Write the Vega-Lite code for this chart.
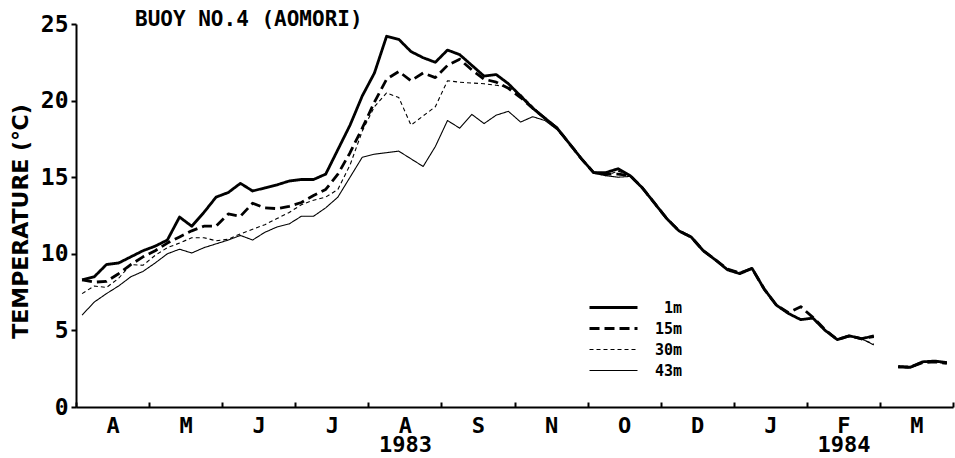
{
  "$schema": "https://vega.github.io/schema/vega-lite/v6.json",
  "width": 877,
  "height": 383,
  "autosize": "none",
  "padding": {"left": 76, "top": 24, "right": 2, "bottom": 51},
  "background": "white",
  "config": {
    "view": {"stroke": null},
    "axis": {"domainColor": "black", "domainWidth": 2, "tickColor": "black", "tickWidth": 2, "labelColor": "black", "titleColor": "black", "grid": false}
  },
  "title": {
    "text": "BUOY NO.4 (AOMORI)",
    "anchor": "start",
    "frame": "group",
    "dx": 59,
    "offset": 0,
    "baseline": "alphabetic",
    "dy": 34,
    "font": "DejaVu Sans Mono",
    "fontSize": 21,
    "fontWeight": "bold",
    "color": "black"
  },
  "data": {
    "values": [
      {"p": 1, "seg": 1, "1m": 8.3, "15m": 8.3, "30m": 7.4, "43m": 6.0},
      {"p": 2, "seg": 1, "1m": 8.5, "15m": 8.15, "30m": 7.9, "43m": 6.85},
      {"p": 3, "seg": 1, "1m": 9.3, "15m": 8.2, "30m": 7.8, "43m": 7.4},
      {"p": 4, "seg": 1, "1m": 9.4, "15m": 8.7, "30m": 8.4, "43m": 7.9},
      {"p": 5, "seg": 1, "1m": 9.8, "15m": 9.3, "30m": 9.3, "43m": 8.5},
      {"p": 6, "seg": 1, "1m": 10.2, "15m": 9.8, "30m": 9.25, "43m": 8.85},
      {"p": 7, "seg": 1, "1m": 10.5, "15m": 10.2, "30m": 9.9, "43m": 9.4},
      {"p": 8, "seg": 1, "1m": 10.9, "15m": 10.7, "30m": 10.4, "43m": 10.0},
      {"p": 9, "seg": 1, "1m": 12.4, "15m": 11.1, "30m": 10.7, "43m": 10.3},
      {"p": 10, "seg": 1, "1m": 11.8, "15m": 11.5, "30m": 11.05, "43m": 10.05},
      {"p": 11, "seg": 1, "1m": 12.7, "15m": 11.8, "30m": 11.05, "43m": 10.4},
      {"p": 12, "seg": 1, "1m": 13.7, "15m": 11.8, "30m": 10.85, "43m": 10.65},
      {"p": 13, "seg": 1, "1m": 14.0, "15m": 12.6, "30m": 10.95, "43m": 10.9},
      {"p": 14, "seg": 1, "1m": 14.6, "15m": 12.45, "30m": 11.3, "43m": 11.2},
      {"p": 15, "seg": 1, "1m": 14.1, "15m": 13.3, "30m": 11.6, "43m": 10.9},
      {"p": 16, "seg": 1, "1m": 14.3, "15m": 13.0, "30m": 11.9, "43m": 11.4},
      {"p": 17, "seg": 1, "1m": 14.5, "15m": 12.95, "30m": 12.3, "43m": 11.75},
      {"p": 18, "seg": 1, "1m": 14.75, "15m": 13.1, "30m": 12.7, "43m": 11.95},
      {"p": 19, "seg": 1, "1m": 14.85, "15m": 13.35, "30m": 13.2, "43m": 12.45},
      {"p": 20, "seg": 1, "1m": 14.85, "15m": 13.8, "30m": 13.5, "43m": 12.45},
      {"p": 21, "seg": 1, "1m": 15.2, "15m": 14.2, "30m": 13.7, "43m": 13.0},
      {"p": 22, "seg": 1, "1m": 16.8, "15m": 15.2, "30m": 14.2, "43m": 13.7},
      {"p": 23, "seg": 1, "1m": 18.4, "15m": 16.6, "30m": 15.8, "43m": 15.0},
      {"p": 24, "seg": 1, "1m": 20.3, "15m": 18.2, "30m": 18.0, "43m": 16.3},
      {"p": 25, "seg": 1, "1m": 21.8, "15m": 19.9, "30m": 19.6, "43m": 16.5},
      {"p": 26, "seg": 1, "1m": 24.2, "15m": 21.4, "30m": 20.5, "43m": 16.6},
      {"p": 27, "seg": 1, "1m": 24.0, "15m": 21.9, "30m": 20.2, "43m": 16.7},
      {"p": 28, "seg": 1, "1m": 23.2, "15m": 21.3, "30m": 18.4, "43m": 16.2},
      {"p": 29, "seg": 1, "1m": 22.8, "15m": 21.8, "30m": 19.0, "43m": 15.7},
      {"p": 30, "seg": 1, "1m": 22.5, "15m": 21.5, "30m": 19.6, "43m": 17.0},
      {"p": 31, "seg": 1, "1m": 23.3, "15m": 22.3, "30m": 21.3, "43m": 18.7},
      {"p": 32, "seg": 1, "1m": 23.0, "15m": 22.7, "30m": 21.2, "43m": 18.2},
      {"p": 33, "seg": 1, "1m": 22.3, "15m": 22.0, "30m": 21.15, "43m": 19.1},
      {"p": 34, "seg": 1, "1m": 21.6, "15m": 21.4, "30m": 21.1, "43m": 18.5},
      {"p": 35, "seg": 1, "1m": 21.7, "15m": 21.2, "30m": 21.0, "43m": 19.05},
      {"p": 36, "seg": 1, "1m": 21.1, "15m": 20.8, "30m": 20.9, "43m": 19.3},
      {"p": 37, "seg": 1, "1m": 20.3, "15m": 20.2, "30m": 20.4, "43m": 18.6},
      {"p": 38, "seg": 1, "1m": 19.5, "15m": 19.5, "30m": 19.6, "43m": 18.95},
      {"p": 39, "seg": 1, "1m": 18.85, "15m": 18.85, "30m": 18.85, "43m": 18.7},
      {"p": 40, "seg": 1, "1m": 18.2, "15m": 18.2, "30m": 18.2, "43m": 18.1},
      {"p": 41, "seg": 1, "1m": 17.2, "15m": 17.2, "30m": 17.2, "43m": 17.2},
      {"p": 42, "seg": 1, "1m": 16.2, "15m": 16.2, "30m": 16.2, "43m": 16.2},
      {"p": 43, "seg": 1, "1m": 15.3, "15m": 15.3, "30m": 15.3, "43m": 15.25},
      {"p": 44, "seg": 1, "1m": 15.3, "15m": 15.2, "30m": 15.1, "43m": 15.1},
      {"p": 45, "seg": 1, "1m": 15.55, "15m": 15.2, "30m": 15.4, "43m": 15.0},
      {"p": 46, "seg": 1, "1m": 15.1, "15m": 15.1, "30m": 15.1, "43m": 15.05},
      {"p": 47, "seg": 1, "1m": 14.3, "15m": 14.3, "30m": 14.3, "43m": 14.3},
      {"p": 48, "seg": 1, "1m": 13.3, "15m": 13.3, "30m": 13.3, "43m": 13.3},
      {"p": 49, "seg": 1, "1m": 12.3, "15m": 12.3, "30m": 12.3, "43m": 12.3},
      {"p": 50, "seg": 1, "1m": 11.5, "15m": 11.5, "30m": 11.5, "43m": 11.5},
      {"p": 51, "seg": 1, "1m": 11.1, "15m": 11.1, "30m": 11.1, "43m": 11.1},
      {"p": 52, "seg": 1, "1m": 10.2, "15m": 10.2, "30m": 10.2, "43m": 10.2},
      {"p": 53, "seg": 1, "1m": 9.6, "15m": 9.6, "30m": 9.6, "43m": 9.6},
      {"p": 54, "seg": 1, "1m": 8.95, "15m": 9.0, "30m": 9.0, "43m": 8.95},
      {"p": 55, "seg": 1, "1m": 8.7, "15m": 8.75, "30m": 8.8, "43m": 8.7},
      {"p": 56, "seg": 1, "1m": 9.05, "15m": 9.05, "30m": 9.05, "43m": 9.05},
      {"p": 57, "seg": 1, "1m": 7.7, "15m": 7.7, "30m": 7.7, "43m": 7.7},
      {"p": 58, "seg": 1, "1m": 6.65, "15m": 6.65, "30m": 6.65, "43m": 6.65},
      {"p": 59, "seg": 1, "1m": 6.1, "15m": 6.15, "30m": 6.1, "43m": 6.1},
      {"p": 60, "seg": 1, "1m": 5.7, "15m": 6.55, "30m": 5.75, "43m": 5.7},
      {"p": 61, "seg": 1, "1m": 5.8, "15m": 5.85, "30m": 5.8, "43m": 5.8},
      {"p": 62, "seg": 1, "1m": 5.0, "15m": 5.05, "30m": 5.0, "43m": 5.0},
      {"p": 63, "seg": 1, "1m": 4.4, "15m": 4.4, "30m": 4.4, "43m": 4.4},
      {"p": 64, "seg": 1, "1m": 4.65, "15m": 4.65, "30m": 4.65, "43m": 4.6},
      {"p": 65, "seg": 1, "1m": 4.45, "15m": 4.45, "30m": 4.45, "43m": 4.45},
      {"p": 66, "seg": 1, "1m": 4.65, "15m": 4.6, "30m": 4.1, "43m": 4.05},
      {"p": 68, "seg": 2, "1m": 2.65, "15m": 2.6, "30m": 2.6, "43m": 2.6},
      {"p": 69, "seg": 2, "1m": 2.6, "15m": 2.6, "30m": 2.55, "43m": 2.55},
      {"p": 70, "seg": 2, "1m": 2.95, "15m": 2.9, "30m": 2.9, "43m": 2.9},
      {"p": 71, "seg": 2, "1m": 3.0, "15m": 2.95, "30m": 2.95, "43m": 2.95},
      {"p": 72, "seg": 2, "1m": 2.9, "15m": 2.85, "30m": 2.85, "43m": 2.85}
    ]
  },
  "transform": [
    {"fold": ["1m", "15m", "30m", "43m"], "as": ["depth", "t"]}
  ],
  "encoding": {
    "x": {
      "field": "p",
      "type": "quantitative",
      "scale": {"domain": [0.5, 72.5], "nice": false, "zero": false},
      "axis": {
        "title": null,
        "values": [0.5, 3.5, 6.5, 9.5, 12.5, 15.5, 18.5, 21.5, 24.5, 27.5, 30.5, 33.5, 36.5, 39.5, 42.5, 45.5, 48.5, 51.5, 54.5, 57.5, 60.5, 63.5, 66.5, 69.5, 72.5],
        "labelExpr": "(datum.value - 0.5) % 6 == 0 ? '' : (floor(datum.value / 6) == 4 ? ['A', '1983'] : (floor(datum.value / 6) == 10 ? ['F', '1984'] : ['A','M','J','J','A','S','N','O','D','J','F','M'][floor(datum.value / 6)]))",
        "tickOpacity": {"condition": {"test": "(datum.value - 0.5) % 6 == 0", "value": 1}, "value": 0},
        "tickSize": -5,
        "labelFont": "DejaVu Sans Mono",
        "labelFontSize": 22,
        "labelFontWeight": "bold",
        "labelPadding": 13,
        "labelLineHeight": 19,
        "labelFlush": false,
        "labelOverlap": false,
        "labelBound": false
      }
    },
    "y": {
      "field": "t",
      "type": "quantitative",
      "scale": {"domain": [0, 25], "nice": false},
      "axis": {
        "title": "TEMPERATURE (℃)",
        "values": [0, 5, 10, 15, 20, 25],
        "tickSize": 5,
        "labelFont": "DejaVu Sans Mono",
        "labelFontSize": 23,
        "labelFontWeight": "bold",
        "labelPadding": 3,
        "titleFont": "DejaVu Sans",
        "titleFontSize": 22,
        "titleFontWeight": "bold",
        "titleX": -44,
        "titleY": 197
      }
    },
    "detail": {"field": "seg", "type": "nominal"},
    "strokeDash": {
      "field": "depth",
      "type": "nominal",
      "scale": {"domain": ["1m", "15m", "30m", "43m"], "range": [[1, 0], [10, 5], [4, 3], [1, 0]]},
      "legend": {
        "title": null,
        "orient": "none",
        "legendX": 530,
        "legendY": 276,
        "symbolType": "M-4.8,0H4.8",
        "symbolSize": 100,
        "symbolStrokeColor": "black",
        "symbolFillColor": "transparent",
        "rowPadding": 5,
        "labelAlign": "right",
        "labelOffset": 61,
        "labelFont": "DejaVu Sans Mono",
        "labelFontSize": 15,
        "labelFontWeight": "bold",
        "labelColor": "black",
        "encode": {
          "symbols": {
            "update": {
              "strokeWidth": {"signal": "datum.value == '1m' || datum.value == '15m' ? 2.8 : 1.1"}
            }
          }
        }
      }
    }
  },
  "layer": [
    {
      "transform": [{"filter": "datum.depth == '1m' || datum.depth == '15m'"}],
      "mark": {"type": "line", "color": "black", "strokeWidth": 2.8, "strokeJoin": "round", "strokeCap": "butt"}
    },
    {
      "transform": [{"filter": "datum.depth == '30m' || datum.depth == '43m'"}],
      "mark": {"type": "line", "color": "black", "strokeWidth": 1.1, "strokeJoin": "round", "strokeCap": "butt"}
    }
  ]
}
